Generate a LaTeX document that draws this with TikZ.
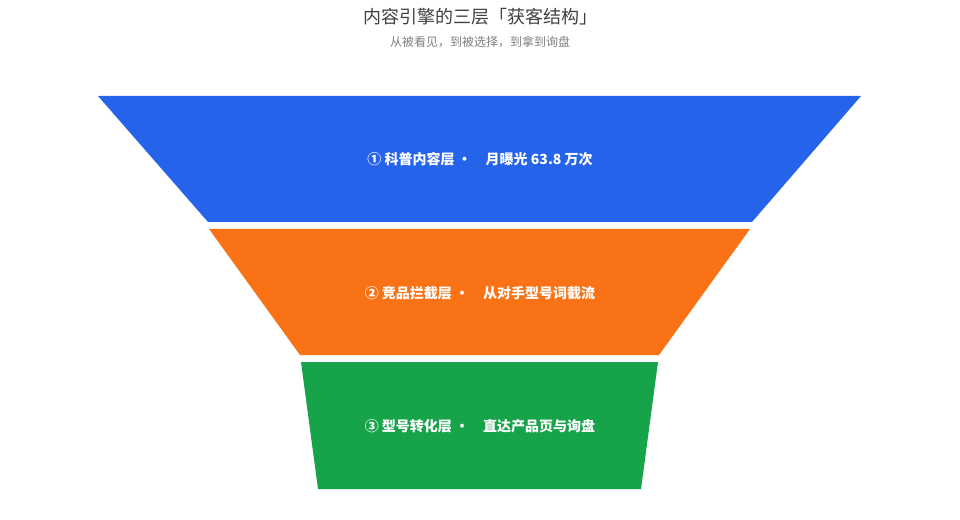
\documentclass[tikz,border=0pt]{standalone}
\usepackage{fontspec}
\setmainfont{Noto Sans CJK SC}
\begin{document}
\begin{tikzpicture}[x=0.75pt,y=-0.75pt,
  band/.style={draw=none},
  lbl/.style={text=white,font=\fontsize{10.5}{12}\selectfont\bfseries,anchor=center}]
\definecolor{cblue}{HTML}{2563EB}
\definecolor{corange}{HTML}{F97316}
\definecolor{cgreen}{HTML}{16A34A}
\useasboundingbox (0,0) rectangle (960,520);
\fill[white] (0,0) rectangle (960,520);
\node[text=black!75,font=\fontsize{13.5}{15}\selectfont] (title) at (480,17) {内容引擎的三层「获客结构」};
\node[text=black!50,font=\fontsize{9}{10}\selectfont] (sub) at (480,42) {从被看见，到被选择，到拿到询盘};
\fill[cblue] (98,96) -- (861,96) -- (752,222) -- (208,222) -- cycle;
\fill[corange] (209,229) -- (750,229) -- (659,355) -- (300,355) -- cycle;
\fill[cgreen] (301,362) -- (658,362) -- (641,489) -- (318,489) -- cycle;
\node[lbl] (l1) at (480,159) {① 科普内容层 ·\quad 月曝光 63.8 万次};
\node[lbl] (l2) at (480,293) {② 竞品拦截层 ·\quad 从对手型号词截流};
\node[lbl] (l3) at (480,426) {③ 型号转化层 ·\quad 直达产品页与询盘};
\end{tikzpicture}
\end{document}
